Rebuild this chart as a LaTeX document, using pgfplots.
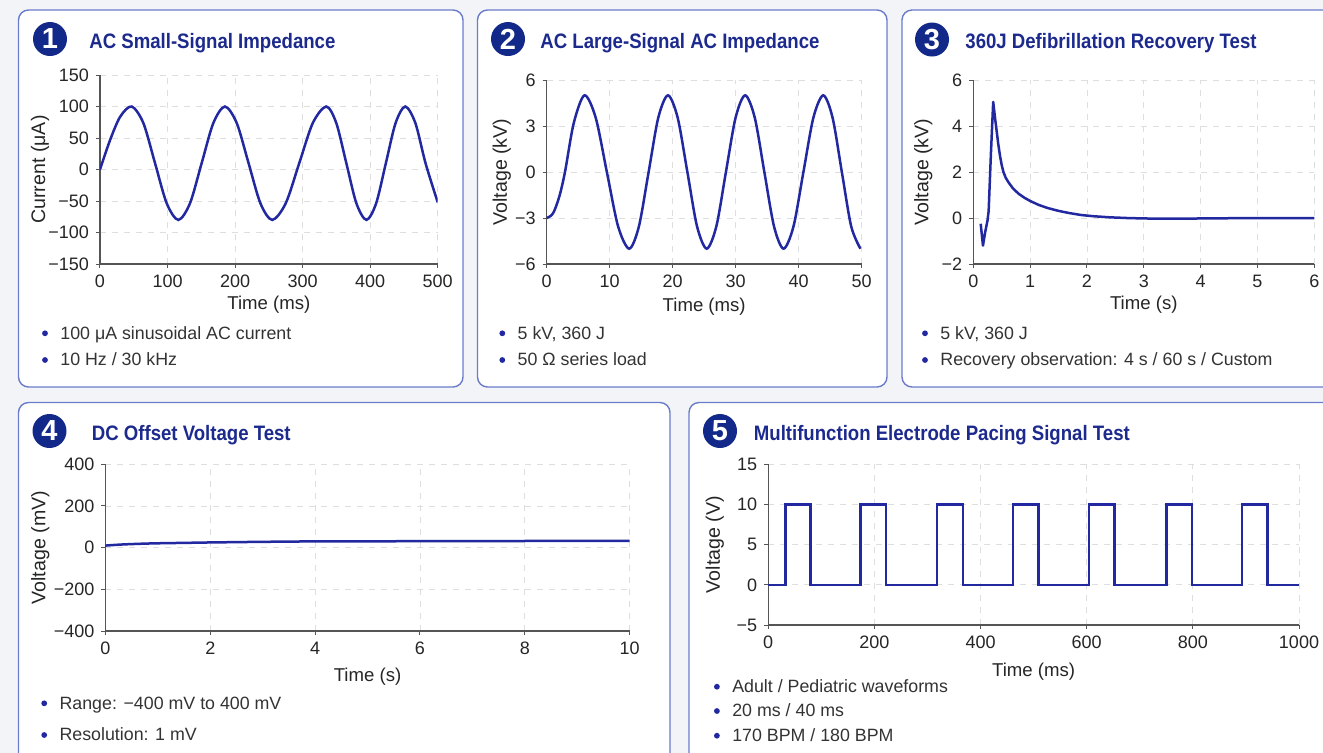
\documentclass[border=0pt]{standalone}
\usepackage{fontspec}
\setmainfont{Liberation Sans}
\newfontfamily\titlefont{Liberation Sans}[FakeStretch=0.89]
\usepackage{pgfplots}
\pgfplotsset{compat=1.18}
\definecolor{bgc}{HTML}{F3F4F7}
\definecolor{border}{HTML}{6B7BCB}
\definecolor{navy}{HTML}{13298A}
\definecolor{titleblue}{HTML}{1C2A8E}
\definecolor{curve}{HTML}{2228A0}
\definecolor{axgray}{HTML}{555555}
\definecolor{txt}{HTML}{333333}
\pgfplotsset{panel/.style={
  scale only axis, anchor=south west,
  axis lines=left, axis line style={draw=axgray,line width=0.6pt,-},
  tick align=outside, major tick length=2pt, tick style={draw=axgray,line width=0.5pt},
  grid=major, grid style={dashed,draw=black!13,line width=0.4pt},
  /pgf/number format/assume math mode=true,
  /pgf/number format/1000 sep={},
  tick label style={font=\fontsize{9}{10}\selectfont, text=black!85},
  xlabel style={font=\fontsize{9.3}{11}\selectfont, text=black!85},
  ylabel style={font=\fontsize{9.8}{11}\selectfont, text=black!85},
  every axis plot post/.append style={draw=curve, line width=1.25pt, mark=none},
}}
\newcommand{\ttl}[3]{\node[anchor=base west, inner sep=0, text=titleblue, font=\titlefont\bfseries\fontsize{10.45}{12}\selectfont] at (#1,#2) {#3};}
\newcommand{\num}[3]{\fill[navy] (#1,#2) circle (8.5pt); \node[text=white, font=\bfseries\fontsize{14.5}{14.5}\selectfont, inner sep=0] at (#1,#2) {#3};}
\newcommand{\bul}[3]{\fill[curve] (#1,#2) circle (1.45pt); \node[anchor=base west, inner sep=0, text=txt, font=\fontsize{8.9}{10}\selectfont] at ([xshift=7.5pt]#1,#2+5.8) {#3};}
\begin{document}
\begin{tikzpicture}
\useasboundingbox (0,0) rectangle (661.5pt,-376pt);
\clip (0,0) rectangle (661.5pt,-376pt);
\begin{scope}[x=0.5pt,y=-0.5pt]
\fill[bgc] (-5,-5) rectangle (1330,760);
\draw[border, fill=white, line width=0.7pt, rounded corners=5pt] (18.5,10) rectangle (463,387);
\draw[border, fill=white, line width=0.7pt, rounded corners=5pt] (477.5,10) rectangle (887,387);
\draw[border, fill=white, line width=0.7pt, rounded corners=5pt] (902,10) rectangle (1340,387);
\draw[border, fill=white, line width=0.7pt, rounded corners=5pt] (18.5,402.5) rectangle (670,770);
\draw[border, fill=white, line width=0.7pt, rounded corners=5pt] (689,402.5) rectangle (1340,770);
\num{50}{39}{1}\ttl{89}{48}{AC Small-Signal Impedance}
\num{508}{39}{2}\ttl{540}{48}{AC Large-Signal AC Impedance}
\num{932}{39.5}{3}\ttl{965}{48}{360J Defibrillation Recovery Test}
\num{49.5}{431}{4}\ttl{91.5}{440}{DC Offset Voltage Test}
\num{720}{431}{5}\ttl{753.5}{440}{Multifunction Electrode Pacing Signal Test}
\bul{45}{333.3}{100 μA sinusoidal AC current}
\bul{45}{360}{10 Hz / 30 kHz}
\bul{502.3}{333.3}{5 kV, 360 J}
\bul{502.3}{360}{50 Ω series load}
\bul{925}{333.3}{5 kV, 360 J}
\bul{925}{360}{Recovery observation: 4 s / 60 s / Custom}
\bul{44.2}{703.3}{Range: −400 mV to 400 mV}
\bul{44.2}{735}{Resolution: 1 mV}
\bul{716.9}{686.7}{Adult / Pediatric waveforms}
\bul{716.9}{711}{20 ms / 40 ms}
\bul{716.9}{735.7}{170 BPM / 180 BPM}
\end{scope}
% Panel 1
\begin{axis}[panel, at={(50pt,-132pt)}, width=168.85pt, height=94.5pt,
  xmin=0, xmax=500, ymin=-150, ymax=150, xtick={0,100,...,500},
  ytick={-150,-100,-50,0,50,100,150}, yticklabels={−150,−100,−50,0,50,100,150},
  xlabel={Time (ms)}, ylabel={Current (μA)},
  xlabel style={at={([yshift=-20.5pt]axis description cs:0.5,0)}, anchor=center},
  ylabel style={at={([xshift=-30pt]axis description cs:0,0.5)}, anchor=center}]
\addplot[smooth] coordinates {(0,0)(15,47)(30,84)(47,100)(64.25,73.6)(81.5,10)(98.75,-53.6)(116,-80)
(133.25,-53.6)(150.5,10)(167.75,73.6)(185,100)(202.5,73.6)(220,10)(237.5,-53.6)(255,-80)
(275,-53.6)(295,10)(315,73.6)(335,100)(349.9,73.6)(364.75,10)(379.6,-53.6)(394.5,-80)
(408.9,-53.6)(423.25,10)(437.6,73.6)(452,100)(467,73.6)(482,10)(500,-52)};
\end{axis}
% Panel 2
\begin{axis}[panel, at={(273.35pt,-132pt)}, width=157.5pt, height=92pt,
  xmin=0, xmax=50, ymin=-6, ymax=6, xtick={0,10,...,50},
  ytick={-6,-3,0,3,6}, yticklabels={−6,−3,0,3,6},
  xlabel={Time (ms)}, ylabel={Voltage (kV)},
  xlabel style={at={([yshift=-21.5pt]axis description cs:0.5,0)}, anchor=center},
  ylabel style={at={([xshift=-22.5pt]axis description cs:0,0.5)}, anchor=center}]
\addplot[smooth] coordinates {(0,-3)(1,-2.7)(2,-1.6)(2.9,0)(4.3,3.2)(6,5)
(7.78,3.54)(9.55,0)(11.33,-3.54)(13.1,-5)(14.64,-3.54)(16.18,0)(17.71,3.54)(19.25,5)
(20.79,3.54)(22.33,0)(23.86,-3.54)(25.4,-5)(26.93,-3.54)(28.45,0)(29.98,3.54)(31.5,5)
(33.03,3.54)(34.55,0)(36.08,-3.54)(37.6,-5)(39.18,-3.54)(40.75,0)(42.33,3.54)(43.9,5)
(45.38,3.54)(46.85,0)(48.33,-3.54)(49.8,-5)};
\end{axis}
% Panel 3
\begin{axis}[panel, at={(486.65pt,-132pt)}, width=170.5pt, height=92pt,
  xmin=0, xmax=6, ymin=-2, ymax=6, xtick={0,1,...,6},
  ytick={-2,0,2,4,6}, yticklabels={−2,0,2,4,6},
  xlabel={Time (s)}, ylabel={Voltage (kV)},
  xlabel style={at={([yshift=-20.5pt]axis description cs:0.5,0)}, anchor=center},
  ylabel style={at={([xshift=-25pt]axis description cs:0,0.5)}, anchor=center}]
\addplot[line join=round] coordinates {(0.13,-0.25)(0.17,-1.2)(0.21,-0.6)(0.25,-0.1)(0.27,0.3)(0.31,2.8)(0.35,5.05)
(0.38,4.4)(0.41,3.8)(0.44,3.2)(0.47,2.7)(0.50,2.3)(0.53,2.0)(0.57,1.75)(0.62,1.55)(0.7,1.28)(0.8,1.05)(0.9,0.88)
(1.0,0.74)(1.15,0.57)(1.3,0.44)(1.5,0.31)(1.7,0.21)(1.9,0.13)(2.1,0.08)(2.4,0.03)(2.7,0.0)(3.0,-0.02)(3.5,-0.03)
(4.0,-0.02)(4.5,-0.01)(5.0,0)(6.0,0)};
\end{axis}
% Panel 4
\begin{axis}[panel, at={(52.7pt,-315.5pt)}, width=262.15pt, height=83.35pt,
  xmin=0, xmax=10, ymin=-400, ymax=400, xtick={0,2,...,10},
  ytick={-400,-200,0,200,400}, yticklabels={−400,−200,0,200,400},
  xlabel={Time (s)}, ylabel={Voltage (mV)},
  xlabel style={at={([yshift=-22.85pt]axis description cs:0.5,0)}, anchor=center},
  ylabel style={at={([xshift=-32.5pt]axis description cs:0,0.5)}, anchor=center}]
\addplot[smooth] coordinates {(0,10)(0.3,15)(0.7,19)(1,21)(1.5,23)(2,25)(3,28)(4,30)(6,31)(8,32)(10,32)};
\end{axis}
% Panel 5
\begin{axis}[panel, at={(384.1pt,-312.5pt)}, width=265.4pt, height=80.35pt,
  xmin=0, xmax=1000, ymin=-5, ymax=15, xtick={0,200,...,1000},
  ytick={-5,0,5,10,15}, yticklabels={−5,0,5,10,15},
  xlabel={Time (ms)}, ylabel={Voltage (V)},
  xlabel style={at={([yshift=-23.35pt]axis description cs:0.5,0)}, anchor=center},
  ylabel style={at={([xshift=-26.7pt]axis description cs:0,0.5)}, anchor=center}]
\addplot[line join=miter] coordinates {(0,0)(33,0)(33,10)(80,10)(80,0)(174,0)(174,10)(222,10)(222,0)
(318,0)(318,10)(367,10)(367,0)(461,0)(461,10)(509,10)(509,0)(604,0)(604,10)(652,10)(652,0)
(750,0)(750,10)(798,10)(798,0)(893,0)(893,10)(941,10)(941,0)(1000,0)};
\end{axis}
\end{tikzpicture}
\end{document}
